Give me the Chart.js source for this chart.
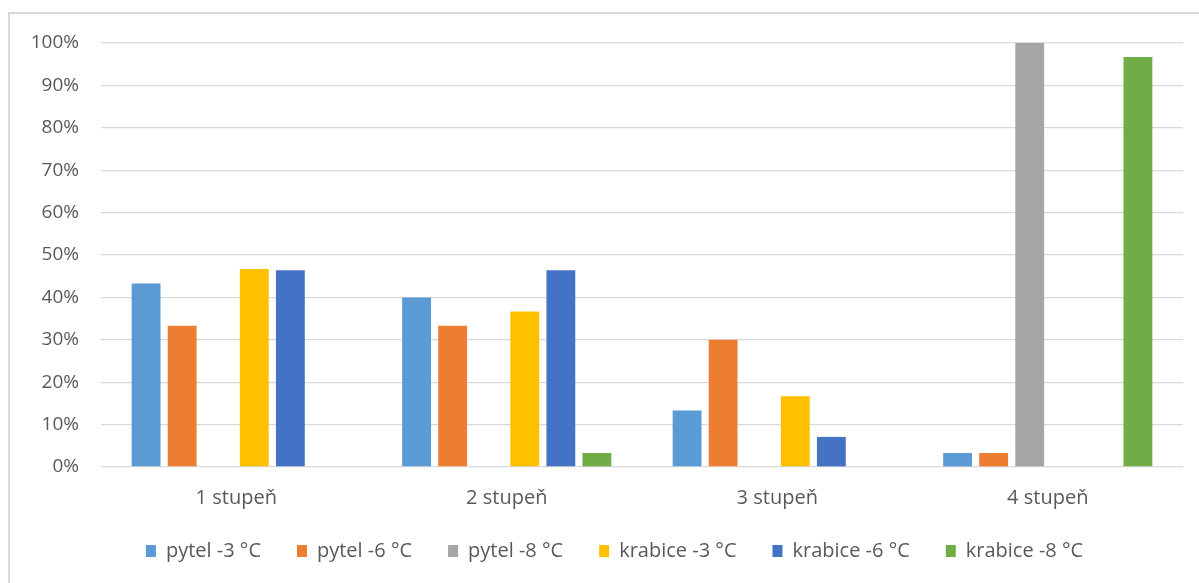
<!DOCTYPE html>
<html>
<head>
<meta charset="utf-8">
<script src="https://cdn.jsdelivr.net/npm/chart.js@4.4.1/dist/chart.umd.min.js"></script>
<style>
  html, body { margin: 0; padding: 0; background: #ffffff; }
  #wrap { position: relative; width: 1199px; height: 583px; overflow: hidden; }
  #frame { position: absolute; left: 8px; top: 12px; width: 1300px; height: 700px;
           border-top: 2px solid #d9d9d9; border-left: 2px solid #d9d9d9; }
  canvas { position: absolute; left: 0; top: 0; }
</style>
</head>
<body>
<div id="wrap">
  <div id="frame"></div>
  <canvas id="chart" width="1199" height="600"></canvas>
</div>
<script>
// Categories (degree of damage) and share of samples per storage variant, in percent
const categories = ['1 stupeň', '2 stupeň', '3 stupeň', '4 stupeň'];
const seriesNames = ['pytel -3 °C', 'pytel -6 °C', 'pytel -8 °C', 'krabice -3 °C', 'krabice -6 °C', 'krabice -8 °C'];
const pytel3 = [43.3, 40.0, 13.3, 3.3];
const pytel6 = [33.3, 33.3, 30.0, 3.3];
const pytel8 = [0, 0, 0, 100];
const krabice3 = [46.7, 36.7, 16.7, 0];
const krabice6 = [46.4, 46.4, 7.1, 0];
const krabice8 = [0, 3.3, 0, 96.7];
const yTicks = [0, 10, 20, 30, 40, 50, 60, 70, 80, 90, 100];

const seriesValues = [pytel3, pytel6, pytel8, krabice3, krabice6, krabice8];
const seriesColors = ['#5B9BD5', '#ED7D31', '#A5A5A5', '#FFC000', '#4472C4', '#70AD47'];

const FONT = "'Open Sans', 'Liberation Sans', sans-serif";
const TEXT = '#595959';

// Nudges the legend block after layout so it sits centred under the plot, close to the axis labels
const legendOffset = {
  id: 'legendOffset',
  afterLayout(chart, args, opts) {
    const lg = chart.legend;
    if (!lg) return;
    lg.left += opts.dx; lg.right += opts.dx;
    lg.top += opts.dy; lg.bottom += opts.dy;
  }
};

new Chart(document.getElementById('chart'), {
  type: 'bar',
  data: {
    labels: categories,
    datasets: seriesNames.map((name, i) => ({
      label: name,
      data: seriesValues[i],
      backgroundColor: seriesColors[i],
      borderWidth: 0,
      categoryPercentage: 0.8,
      barPercentage: 0.8
    }))
  },
  plugins: [legendOffset],
  options: {
    responsive: false,
    animation: false,
    layout: { padding: { left: 0, right: 16, top: 43, bottom: 13 } },
    scales: {
      x: {
        grid: { display: false },
        border: { display: false },
        ticks: { color: TEXT, font: { family: FONT, size: 20 }, padding: 11 }
      },
      y: {
        min: 0,
        max: 100,
        afterFit: (scale) => { scale.width = 101; },
        afterBuildTicks: (scale) => { scale.ticks = yTicks.map(v => ({ value: v })); },
        grid: { color: '#d9d9d9', lineWidth: 1.3, drawTicks: false },
        border: { display: false },
        ticks: {
          color: TEXT,
          font: { family: FONT, size: 19 },
          padding: 22,
          callback: (v) => v + '%'
        }
      }
    },
    plugins: {
      legend: {
        position: 'bottom',
        labels: {
          color: TEXT,
          font: { family: FONT, size: 20 },
          boxWidth: 10,
          boxHeight: 12,
          padding: 36
        }
      },
      legendOffset: { dx: 23, dy: -16 },
      tooltip: { enabled: false }
    }
  }
});
</script>
</body>
</html>
